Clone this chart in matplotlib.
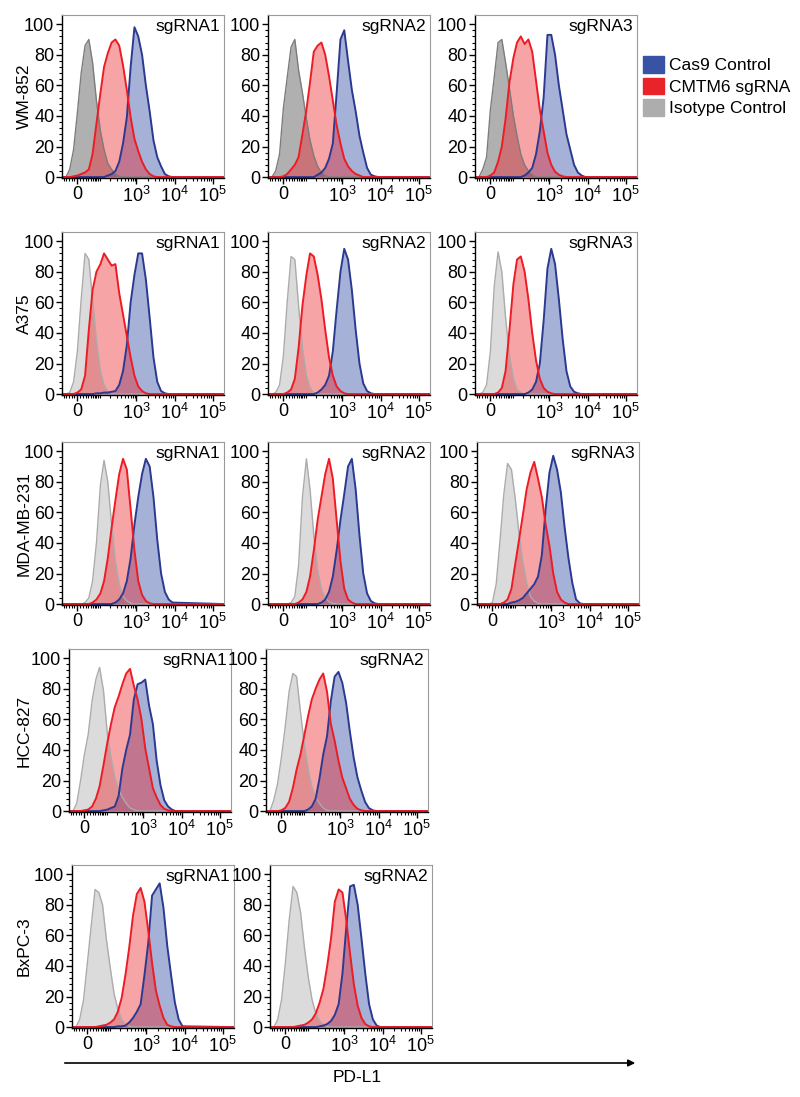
import numpy as np
import matplotlib.pyplot as plt
import matplotlib.patches as mpatches

plt.rcParams['font.family'] = ['Liberation Sans', 'DejaVu Sans']
plt.rcParams['mathtext.fontset'] = 'custom'
plt.rcParams['mathtext.rm'] = 'Liberation Sans'

# PD-L1 intensity bins (histogram bin centres)
bins = [-42, -27, -13, 0, 13, 27, 42, 59, 80, 106, 135, 172, 219, 277, 350,
        442, 557, 702, 885, 1114, 1403, 1766, 2224, 2800, 3524, 4437, 5586, 7032, 8851]

cell_lines = ['WM-852', 'A375', 'MDA-MB-231', 'HCC-827', 'BxPC-3']
guides = [['sgRNA1', 'sgRNA2', 'sgRNA3'],
          ['sgRNA1', 'sgRNA2', 'sgRNA3'],
          ['sgRNA1', 'sgRNA2', 'sgRNA3'],
          ['sgRNA1', 'sgRNA2'],
          ['sgRNA1', 'sgRNA2']]

# % of max, one list per sgRNA panel
wm852_iso = [
    [0, 5, 18, 42, 68, 86, 90, 75, 50, 30, 18, 9, 5, 2, 0.5] + [0] * 14,
    [0, 4, 15, 45, 65, 85, 90, 70, 55, 38, 24, 14, 7, 3, 1] + [0] * 14,
    [0, 5, 13, 44, 65, 88, 90, 75, 58, 40, 27, 15, 8, 4, 1.5] + [0] * 14,
]
wm852_sg = [
    [0, 0, 0.5, 1, 2, 3, 5, 15, 35, 55, 72, 81, 88, 90, 86, 73, 57, 39, 25, 17, 10, 5, 2, 0.5, 0, 0, 0, 0, 0],
    [0, 0, 0, 0.5, 2, 5, 8, 13, 28, 44, 62, 82, 86, 88, 80, 66, 50, 34, 22, 12, 7, 4, 2, 1, 0, 0, 0, 0, 0],
    [0, 0, 0, 1, 3, 10, 20, 38, 62, 78, 88, 92, 87, 90, 82, 63, 44, 30, 16, 8, 3.5, 1.5, 0.5, 0, 0, 0, 0, 0, 0],
]
wm852_cas9 = [
    [0] * 11 + [1, 2, 4, 10, 22, 39, 72, 98, 92, 80, 60, 43, 24, 13, 7, 2, 0.5, 0],
    [0] * 12 + [1.5, 3, 6, 12, 22, 55, 90, 96, 76, 57, 43, 27, 16, 6, 1.5, 0.5, 0],
    [0] * 12 + [1, 3, 6, 15, 30, 52, 93, 93, 80, 60, 44, 28, 18, 8, 3, 1, 0],
]

a375_iso = [
    [0, 1, 8, 28, 62, 92, 88, 62, 35, 15, 6, 2, 0.5] + [0] * 16,
    [0, 1, 6, 25, 60, 90, 88, 58, 30, 12, 4, 1] + [0] * 17,
    [0, 1, 6, 28, 70, 93, 80, 50, 25, 10, 3, 1] + [0] * 17,
]
a375_sg = [
    [0, 0, 0, 1, 3, 12, 42, 68, 80, 85, 92, 88, 84, 85, 66, 52, 38, 24, 12, 5, 2, 0.5, 0, 0, 0, 0, 0, 0, 0],
    [0, 0, 0, 0, 1, 3, 10, 30, 58, 78, 92, 90, 78, 62, 42, 24, 12, 5, 2, 0.5, 0, 0, 0, 0, 0, 0, 0, 0, 0],
    [0, 0, 0, 0, 0, 1, 4, 15, 42, 72, 88, 90, 80, 62, 40, 22, 10, 4, 1.5, 0.5, 0, 0, 0, 0, 0, 0, 0, 0, 0],
]
a375_cas9 = [
    [0] * 8 + [0.5, 0.5, 1, 1, 1.5, 2, 6, 15, 32, 60, 78, 92, 92, 75, 50, 24, 8, 2, 0.5, 0, 0],
    [0] * 12 + [1, 3, 6, 12, 28, 55, 80, 95, 88, 68, 42, 20, 7, 2, 0.5, 0, 0],
    [0] * 13 + [1, 3, 8, 20, 48, 82, 95, 85, 62, 36, 15, 5, 1.5, 0.5, 0, 0],
]

mda_iso = [
    [0, 0, 0, 0, 0, 1, 4, 15, 40, 78, 94, 80, 52, 28, 13, 5, 2, 0.5] + [0] * 11,
    [0, 0, 0, 0, 0, 1, 5, 25, 70, 95, 75, 45, 22, 10, 4, 1.5, 0.5] + [0] * 12,
    [0, 0, 0, 1, 13, 42, 72, 92, 88, 68, 46, 28, 14, 5, 2, 0.5] + [0] * 13,
]
mda_sg = [
    [0] * 7 + [1, 3, 7, 15, 30, 50, 68, 85, 95, 88, 62, 35, 15, 6, 2, 0.5, 0, 0, 0, 0, 0, 0],
    [0] * 7 + [1, 3, 8, 18, 35, 55, 70, 85, 95, 82, 55, 28, 10, 3, 1, 0, 0, 0, 0, 0, 0, 0],
    [0] * 6 + [1, 3, 10, 27, 42, 58, 75, 86, 93, 82, 70, 52, 38, 20, 8, 3, 1, 0, 0, 0, 0, 0, 0],
]
mda_cas9 = [
    [0] * 13 + [1, 3, 7, 15, 30, 52, 70, 85, 95, 90, 70, 42, 20, 8, 3, 1],
    [0] * 13 + [1, 3, 8, 18, 35, 55, 72, 90, 95, 75, 45, 20, 7, 2, 0.5, 0],
    [0] * 8 + [1, 1.5, 2.5, 4, 7, 10, 13, 18, 32, 62, 86, 97, 88, 73, 50, 30, 14, 3, 0.5, 0, 0],
]

hcc_iso = [
    [0, 5, 20, 37, 50, 72, 86, 94, 79, 50, 35, 22, 14, 9, 5, 2, 1] + [0] * 12,
    [0, 7, 18, 35, 55, 78, 90, 88, 65, 43, 28, 16, 9, 5, 2, 0.5] + [0] * 13,
]
hcc_sg = [
    [0, 0, 0, 0.5, 1, 3, 8, 16, 30, 45, 57, 68, 75, 83, 90, 93, 82, 73, 60, 41, 28, 15, 9, 4, 1.5, 0.5, 0, 0, 0],
    [0, 0, 0, 0.5, 2, 6, 15, 27, 37, 50, 62, 73, 80, 86, 90, 78, 57, 46, 33, 22, 15, 8, 4, 1.5, 0.5, 0, 0, 0, 0],
]
hcc_cas9 = [
    [0] * 8 + [0.5, 1, 2, 3, 10, 28, 40, 50, 73, 83, 84, 86, 69, 57, 33, 17, 7, 3, 1, 0, 0],
    [0] * 10 + [1, 3, 8, 21, 37, 49, 72, 88, 91, 84, 71, 52, 35, 22, 13.5, 6, 2, 0.5, 0],
]

bxpc_iso = [
    [0, 5, 18, 42, 66, 90, 88, 80, 57, 38, 22, 12, 5, 2, 0.5] + [0] * 14,
    [0, 5, 18, 42, 70, 92, 88, 75, 52, 32, 18, 9, 4, 1.5, 0.5] + [0] * 14,
]
bxpc_sg = [
    [0, 0, 0, 0, 0, 0, 0.5, 1, 1.5, 3, 5, 10, 19, 34, 52, 73, 87, 91, 82, 63, 42, 24, 14, 6, 1.5, 0.5, 0, 0, 0],
    [0, 0, 0, 0, 0, 0, 0.5, 1, 1.5, 3, 5, 9, 16, 25, 40, 58, 82, 90, 88, 70, 48, 28, 14, 6, 2, 0.5, 0, 0, 0],
]
bxpc_cas9 = [
    [0] * 11 + [0.5, 0.5, 1, 3, 6, 10, 15, 34, 55, 86, 90, 94, 78, 53, 34, 16, 5, 0.5],
    [0] * 12 + [0.5, 1, 2, 4, 8, 15, 35, 65, 92, 93, 80, 58, 35, 15, 5, 1, 0],
]

iso_data = [wm852_iso, a375_iso, mda_iso, hcc_iso, bxpc_iso]
sg_data = [wm852_sg, a375_sg, mda_sg, hcc_sg, bxpc_sg]
cas9_data = [wm852_cas9, a375_cas9, mda_cas9, hcc_cas9, bxpc_cas9]

# biexponential-like display scale
W = 56.0
def fwd(x):
    return np.arcsinh(np.asarray(x, dtype=float) / W) / np.log(10)
def inv(u):
    return W * np.sinh(np.asarray(u, dtype=float) * np.log(10))

XMIN, XMAX = -60, 2.0e5

BLUE_LINE, BLUE_FILL = '#2b3990', '#3953a4'
RED_LINE, RED_FILL = '#ed1c24', '#ed1c24'

FW, FH = 800, 1097
fig = plt.figure(figsize=(FW / 100, FH / 100), dpi=100)

row_tops = [15, 232, 442, 649, 865]
col_lefts = [[62, 268, 475], [62, 268, 475], [62, 268, 477], [69, 266], [72, 270]]
pw, ph = 162, 163

minor_x = [-50, -40, -30, -20, -10] + list(range(10, 100, 10)) + list(range(100, 1000, 100)) \
    + list(range(2000, 10000, 1000)) + list(range(20000, 100000, 10000))

for r, line in enumerate(cell_lines):
    for c, g in enumerate(guides[r]):
        left = col_lefts[r][c]
        ax = fig.add_axes([left / FW, 1 - (row_tops[r] + ph) / FH, pw / FW, ph / FH])
        ax.set_xscale('function', functions=(fwd, inv))
        x = np.array([XMIN] + bins + [XMAX], dtype=float)

        iso = np.array([0] + iso_data[r][c] + [0], dtype=float)
        if r == 0:
            ax.fill_between(x, 0, iso, color='#808080', alpha=0.62, lw=0)
            ax.plot(x, iso, color='#7c7c7c', lw=1.0)
        else:
            ax.fill_between(x, 0, iso, color='#c4c4c4', alpha=0.6, lw=0)
            ax.plot(x, iso, color='#ababab', lw=1.0)

        cas = np.array([0] + cas9_data[r][c] + [0], dtype=float)
        ax.fill_between(x, 0, cas, color=BLUE_FILL, alpha=0.45, lw=0)
        ax.plot(x, cas, color=BLUE_LINE, lw=1.4)

        sg = np.array([0] + sg_data[r][c] + [0], dtype=float)
        ax.fill_between(x, 0, sg, color=RED_FILL, alpha=0.4, lw=0)
        ax.plot(x, sg, color=RED_LINE, lw=1.4)

        ax.set_xlim(XMIN, XMAX)
        ax.set_ylim(-0.6, 106)
        ax.set_xticks([0, 1e3, 1e4, 1e5])
        ax.set_xticklabels(['0', r'$\mathregular{10^{3}}$', r'$\mathregular{10^{4}}$',
                            r'$\mathregular{10^{5}}$'])
        ax.set_xticks(minor_x, minor=True)
        ax.set_yticks([0, 20, 40, 60, 80, 100])
        ax.set_yticks(np.arange(0, 104, 4), minor=True)
        ax.tick_params(labelsize=13, length=4, width=1, pad=1.5)
        ax.tick_params(which='minor', length=2, width=0.8)
        for s in ['left', 'bottom']:
            ax.spines[s].set_linewidth(1)
            ax.spines[s].set_color('black')
        for s in ['top', 'right']:
            ax.spines[s].set_linewidth(0.8)
            ax.spines[s].set_color('#9a9a9a')
        ax.text(0.975, 0.975, g, transform=ax.transAxes, ha='right', va='top', fontsize=12.5)

    yc = 1 - (row_tops[r] + ph / 2) / FH
    fig.text(24 / FW, yc, line, rotation=90, ha='center', va='center', fontsize=12.5)

handles = [mpatches.Patch(color='#3953a4'), mpatches.Patch(color='#e8232a'),
           mpatches.Patch(color='#adadad')]
fig.legend(handles, ['Cas9 Control', 'CMTM6 sgRNA', 'Isotype Control'],
           loc='upper left', bbox_to_anchor=(643 / FW, 1 - 56 / FH), frameon=False,
           fontsize=12.5, handlelength=1.2, handleheight=1.1, handletextpad=0.3,
           labelspacing=0.25, borderaxespad=0, borderpad=0)

fig.add_artist(mpatches.FancyArrowPatch((62 / FW, 1 - 1063 / FH), (638 / FW, 1 - 1063 / FH),
                                        transform=fig.transFigure, arrowstyle='-|>',
                                        mutation_scale=10, lw=1.2, color='black'))
fig.text(357 / FW, 1 - 1078 / FH, 'PD-L1', ha='center', va='center', fontsize=12.5)

fig.savefig('out.png', dpi=100)
